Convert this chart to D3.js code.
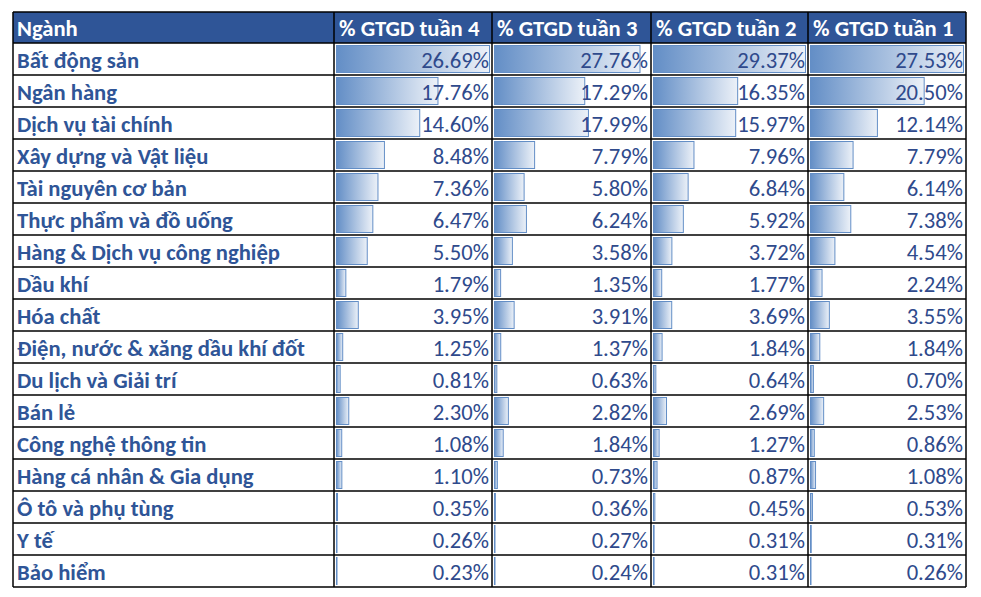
<!DOCTYPE html>
<html>
<head>
<meta charset="utf-8">
<script src="https://cdn.jsdelivr.net/npm/d3@7"></script>
<style>
  html, body { margin: 0; padding: 0; background: #ffffff; }
  svg { display: block; }
</style>
</head>
<body>
<svg id="chart" width="981" height="597"></svg>
<script>
// ---- data ----
const headers = ["Ngành", "% GTGD tuần 4", "% GTGD tuần 3", "% GTGD tuần 2", "% GTGD tuần 1"];
const sectors = [
  "Bất động sản", "Ngân hàng", "Dịch vụ tài chính", "Xây dựng và Vật liệu",
  "Tài nguyên cơ bản", "Thực phẩm và đồ uống", "Hàng & Dịch vụ công nghiệp",
  "Dầu khí", "Hóa chất", "Điện, nước & xăng dầu khí đốt", "Du lịch và Giải trí",
  "Bán lẻ", "Công nghệ thông tin", "Hàng cá nhân & Gia dụng", "Ô tô và phụ tùng",
  "Y tế", "Bảo hiểm"
];
const week4 = [26.69, 17.76, 14.60, 8.48, 7.36, 6.47, 5.50, 1.79, 3.95, 1.25, 0.81, 2.30, 1.08, 1.10, 0.35, 0.26, 0.23];
const week3 = [27.76, 17.29, 17.99, 7.79, 5.80, 6.24, 3.58, 1.35, 3.91, 1.37, 0.63, 2.82, 1.84, 0.73, 0.36, 0.27, 0.24];
const week2 = [29.37, 16.35, 15.97, 7.96, 6.84, 5.92, 3.72, 1.77, 3.69, 1.84, 0.64, 2.69, 1.27, 0.87, 0.45, 0.31, 0.31];
const week1 = [27.53, 20.50, 12.14, 7.79, 6.14, 7.38, 4.54, 2.24, 3.55, 1.84, 0.70, 2.53, 0.86, 1.08, 0.53, 0.31, 0.26];
// maximum value each column's data bars are scaled against
const barScaleMax = [26.69, 29.37, 29.37, 27.53];

// ---- layout ----
(function () {
const series = [week4, week3, week2, week1];
const svg = d3.select("#chart");
const tLeft = 13, tRight = 966, tTop = 12, headerH = 31, rowH = 32;
const colEdges = [tLeft, 334, 492, 651, 808, tRight];
const headerFill = "#2F5597";
const labelColor = "#2F5597";
const valueColor = "#2F4A8C";
const barColor = "#638EC6";
const fontStack = "Carlito, Calibri, 'Noto Sans', 'Open Sans', sans-serif";
const fontSize = 22.67;

const y = d3.scaleBand()
  .domain(sectors)
  .range([tTop + headerH, tTop + headerH + rowH * sectors.length])
  .paddingInner(0).paddingOuter(0);

const tBottom = tTop + headerH + rowH * sectors.length;

const defs = svg.append("defs");
const grad = defs.append("linearGradient").attr("id", "barGrad")
  .attr("x1", "0%").attr("x2", "100%").attr("y1", "0%").attr("y2", "0%");
grad.append("stop").attr("offset", "0%").attr("stop-color", barColor);
grad.append("stop").attr("offset", "100%").attr("stop-color", "#ECF1F8");

svg.append("rect")
  .attr("x", tLeft).attr("y", tTop)
  .attr("width", tRight - tLeft).attr("height", headerH)
  .attr("fill", headerFill);

svg.append("g").selectAll("text")
  .data(headers)
  .join("text")
  .attr("x", (d, i) => colEdges[i] + (i === 0 ? 4 : 5))
  .attr("y", tTop + 24)
  .attr("fill", "#ffffff")
  .attr("font-family", fontStack)
  .attr("font-weight", "bold")
  .attr("font-size", fontSize)
  .text(d => d);

series.forEach((vals, ci) => {
  const x0 = colEdges[ci + 1] + 2;
  const w = colEdges[ci + 2] - colEdges[ci + 1] - 4;
  const x = d3.scaleLinear().domain([0, barScaleMax[ci]]).range([0, w]);
  svg.append("g").selectAll("rect")
    .data(vals)
    .join("rect")
    .attr("x", x0 + 0.5)
    .attr("y", (d, i) => y(sectors[i]) + 2.5)
    .attr("width", d => Math.max(0.5, x(d) - 1))
    .attr("height", rowH - 5)
    .attr("fill", "url(#barGrad)")
    .attr("stroke", barColor)
    .attr("stroke-width", 1);

  svg.append("g").selectAll("text")
    .data(vals)
    .join("text")
    .attr("x", colEdges[ci + 2] - 3)
    .attr("y", (d, i) => y(sectors[i]) + 25)
    .attr("text-anchor", "end")
    .attr("fill", valueColor)
    .attr("font-family", fontStack)
    .attr("font-size", fontSize)
    .text(d => d.toFixed(2) + "%");
});

svg.append("g").selectAll("text")
  .data(sectors)
  .join("text")
  .attr("x", tLeft + 4)
  .attr("y", d => y(d) + 25)
  .attr("fill", labelColor)
  .attr("font-family", fontStack)
  .attr("font-weight", "bold")
  .attr("font-size", fontSize)
  .text(d => d);

const grid = svg.append("g").attr("stroke", "#000").attr("stroke-width", 1.5).attr("fill", "none");
const hLines = [tTop, tTop + headerH].concat(sectors.map(s => y(s) + rowH));
grid.selectAll("line.h")
  .data(hLines)
  .join("line")
  .attr("class", "h")
  .attr("x1", tLeft).attr("x2", tRight)
  .attr("y1", d => d).attr("y2", d => d);
grid.selectAll("line.v")
  .data(colEdges)
  .join("line")
  .attr("class", "v")
  .attr("x1", d => d).attr("x2", d => d)
  .attr("y1", tTop).attr("y2", tBottom);
})();
</script>
</body>
</html>
